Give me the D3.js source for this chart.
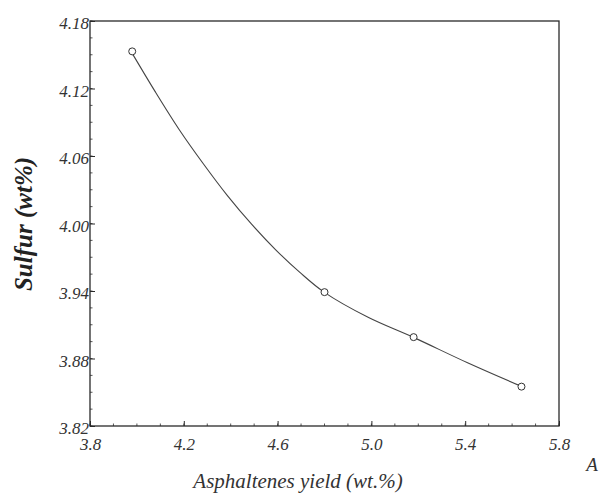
<!DOCTYPE html>
<html><head><meta charset="utf-8">
<script src="https://cdn.jsdelivr.net/npm/d3@7"></script>
<style>body{margin:0;background:#fff}svg{display:block}</style>
</head><body>
<svg id="c" width="609" height="495"></svg>
<script>
// measured points
const asphalteneYield = [3.98, 4.80, 5.18, 5.64];
const sulfur = [4.153, 3.939, 3.899, 3.855];
// fitted curve
const curveX = [3.975, 4.078, 4.180, 4.284, 4.386, 4.489, 4.592, 4.695, 4.798, 4.988, 5.177, 5.410, 5.642];
const curveY = [4.153, 4.1172, 4.0836, 4.0529, 4.0248, 3.9994, 3.9766, 3.9565, 3.939, 3.9164, 3.899, 3.8762, 3.855];
const xTicks = [3.8, 4.2, 4.6, 5.0, 5.4, 5.8];
const xTickLabels = ["3.8", "4.2", "4.6", "5.0", "5.4", "5.8"];
const yTicks = [3.82, 3.88, 3.94, 4.00, 4.06, 4.12, 4.18];
const yTickLabels = ["3.82", "3.88", "3.94", "4.00", "4.06", "4.12", "4.18"];

const svg = d3.select("#c");
const L = 90, T = 21, R = 559, B = 426;
const x = d3.scaleLinear().domain([3.8, 5.8]).range([L, R]);
const y = d3.scaleLinear().domain([3.82, 4.18]).range([B, T]);
const ink = "#2a2a2a";
const serif = "'Liberation Serif','Times New Roman',serif";

// frame
svg.append("rect").attr("x", L).attr("y", T).attr("width", R - L).attr("height", B - T)
  .attr("fill", "none").attr("stroke", ink).attr("stroke-width", 1.3);

// axes with inward ticks
const xAxis = d3.axisBottom(x).tickValues(xTicks).tickFormat((d, i) => xTickLabels[i])
  .tickSizeInner(-5).tickSizeOuter(0).tickPadding(12);
const gx = svg.append("g").attr("transform", `translate(0,${B})`).call(xAxis);
const yAxis = d3.axisLeft(y).tickValues(yTicks).tickFormat((d, i) => yTickLabels[i])
  .tickSizeInner(-5).tickSizeOuter(0).tickPadding(1);
const gy = svg.append("g").attr("transform", `translate(${L},0)`).call(yAxis);
[gx, gy].forEach(g => {
  g.attr("font-family", null).attr("font-size", null);
  g.select(".domain").remove();
  g.selectAll(".tick line").attr("stroke", ink);
  g.selectAll("text").style("font-family", serif).style("font-style", "italic")
    .style("font-size", "17px").attr("fill", "#333");
});
gy.selectAll("text").attr("dy", "0.45em");

// minor ticks
const xMinor = d3.range(3.8, 5.8001, 0.1);
const yMinor = d3.range(3.82, 4.18001, 0.015);
svg.append("g").selectAll("line").data(xMinor).join("line")
  .attr("x1", d => x(d)).attr("x2", d => x(d)).attr("y1", B).attr("y2", B - 2.5)
  .attr("stroke", ink).attr("stroke-width", 0.8);
svg.append("g").selectAll("line").data(yMinor).join("line")
  .attr("x1", L).attr("x2", L + 2.5).attr("y1", d => y(d)).attr("y2", d => y(d))
  .attr("stroke", ink).attr("stroke-width", 0.8);

// curve
const curvePts = curveX.map((v, i) => [v, curveY[i]]);
const line = d3.line().x(d => x(d[0])).y(d => y(d[1])).curve(d3.curveCatmullRom.alpha(0.5));
svg.append("path").datum(curvePts).attr("d", line).attr("fill", "none")
  .attr("stroke", "#444").attr("stroke-width", 1.1);
const pts = asphalteneYield.map((v, i) => [v, sulfur[i]]);
svg.append("g").selectAll("circle").data(pts).join("circle")
  .attr("cx", d => x(d[0])).attr("cy", d => y(d[1])).attr("r", 3.5)
  .attr("fill", "#fff").attr("stroke", "#333").attr("stroke-width", 1);

// titles
svg.append("text").attr("x", 298).attr("y", 488).attr("text-anchor", "middle")
  .style("font-family", serif).style("font-style", "italic").style("font-size", "21px")
  .attr("fill", "#333").text("Asphaltenes yield (wt.%)");
svg.append("text").attr("x", 592).attr("y", 471).attr("text-anchor", "middle")
  .style("font-family", serif).style("font-style", "italic").style("font-size", "19px")
  .attr("fill", "#333").text("A");
svg.append("text").attr("transform", "translate(32,224) rotate(-90)").attr("text-anchor", "middle")
  .style("font-family", serif).style("font-style", "italic").style("font-weight", "bold")
  .style("font-size", "25px").attr("fill", "#222").text("Sulfur (wt%)");
</script>
</body></html>
